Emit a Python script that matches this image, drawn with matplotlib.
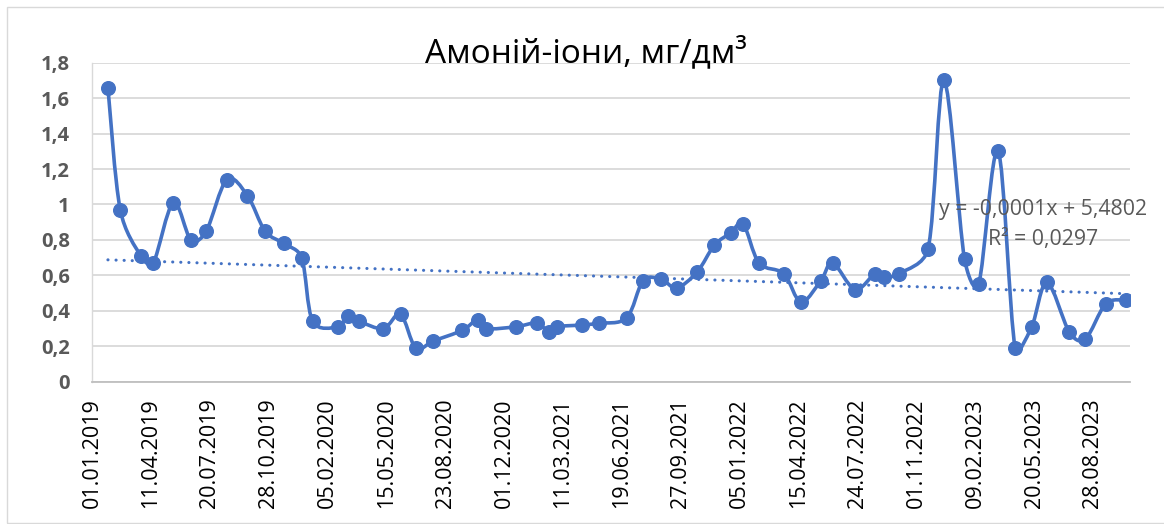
import matplotlib
matplotlib.use("Agg")
import matplotlib.pyplot as plt
import matplotlib.dates as mdates
from matplotlib.path import Path
from matplotlib.patches import PathPatch, Rectangle
from matplotlib.ticker import FixedLocator, FuncFormatter
import numpy as np
import datetime as dt

# ---- data -------------------------------------------------------------
dates = [
    "2019-01-28", "2019-02-18", "2019-03-25", "2019-04-15", "2019-05-19",
    "2019-06-18", "2019-07-14", "2019-08-18", "2019-09-22", "2019-10-22",
    "2019-11-23", "2019-12-23", "2020-01-11", "2020-02-23", "2020-03-10",
    "2020-03-30", "2020-05-10", "2020-06-08", "2020-07-04", "2020-08-03",
    "2020-09-21", "2020-10-17", "2020-11-01", "2020-12-21", "2021-01-25",
    "2021-02-16", "2021-03-01", "2021-04-13", "2021-05-11", "2021-06-27",
    "2021-07-25", "2021-08-24", "2021-09-20", "2021-10-25", "2021-11-23",
    "2021-12-21", "2022-01-11", "2022-02-07", "2022-03-21", "2022-04-19",
    "2022-05-23", "2022-06-12", "2022-07-20", "2022-08-23", "2022-09-07",
    "2022-10-03", "2022-11-21", "2022-12-18", "2023-01-22", "2023-02-15",
    "2023-03-20", "2023-04-18", "2023-05-16", "2023-06-11", "2023-07-19",
    "2023-08-15", "2023-09-19", "2023-10-23",
]
values = [
    1.66, 0.97, 0.71, 0.67, 1.01, 0.80, 0.85, 1.14, 1.05, 0.85,
    0.78, 0.70, 0.34, 0.31, 0.37, 0.34, 0.30, 0.38, 0.19, 0.23,
    0.29, 0.35, 0.30, 0.31, 0.33, 0.28, 0.31, 0.32, 0.33, 0.36,
    0.57, 0.58, 0.53, 0.62, 0.77, 0.84, 0.89, 0.67, 0.61, 0.45,
    0.57, 0.67, 0.52, 0.61, 0.59, 0.61, 0.75, 1.70, 0.69, 0.55,
    1.30, 0.19, 0.31, 0.56, 0.28, 0.24, 0.44, 0.46,
]
y_ticks = [0, 0.2, 0.4, 0.6, 0.8, 1.0, 1.2, 1.4, 1.6, 1.8]
x_start = "2019-01-01"
x_end = "2023-10-30"
tick_step_days = 100
title = "Амоній-іони, мг/дм³"
trend_eq = "y = -0,0001x + 5,4802"
trend_r2 = "R² = 0,0297"

# ---- style ------------------------------------------------------------
BLUE = "#4472C4"
GRID = "#D9D9D9"
GRAY = "#595959"
FONT = ["Open Sans", "DejaVu Sans"]
plt.rcParams["font.family"] = FONT

W, H = 1164, 524
fig = plt.figure(figsize=(W / 100, H / 100), dpi=100)
fig.patch.set_facecolor("white")

# chart border
fig.add_artist(Rectangle((7 / W, 1 / H), (W + 20) / W, (H - 8) / H,
                         transform=fig.transFigure, fill=False,
                         edgecolor=GRID, linewidth=1.0))

ax = fig.add_axes([92 / W, 1 - 381.7 / H, (1130 - 92) / W, (381.7 - 62.7) / H])

xd = np.array([mdates.date2num(dt.datetime.strptime(d, "%Y-%m-%d")) for d in dates])
yv = np.array(values, dtype=float)

x0 = mdates.date2num(dt.datetime.strptime(x_start, "%Y-%m-%d"))
x1 = mdates.date2num(dt.datetime.strptime(x_end, "%Y-%m-%d"))
ax.set_xlim(x0, x1)
ax.set_ylim(0, 1.8)

# smoothed line (Catmull-Rom -> cubic Bezier, handles limited to avoid overshoot)
pts = ax.transData.transform(np.column_stack([xd, yv]))
n = len(pts)
tang = []
for i in range(n):
    p0 = pts[i - 1] if i > 0 else pts[i]
    p2 = pts[i + 1] if i < n - 1 else pts[i]
    tang.append((p2 - p0) / 6.0)
verts = [pts[0]]
codes = [Path.MOVETO]
for i in range(n - 1):
    p1, p2 = pts[i], pts[i + 1]
    seg = np.linalg.norm(p2 - p1)
    t1, t2 = tang[i], tang[i + 1]
    l1, l2 = np.linalg.norm(t1), np.linalg.norm(t2)
    lim = seg * 0.45
    if l1 > lim:
        t1 = t1 * lim / l1
    if l2 > lim:
        t2 = t2 * lim / l2
    verts += [p1 + t1, p2 - t2, p2]
    codes += [Path.CURVE4] * 3
verts = ax.transData.inverted().transform(np.array(verts))
ax.add_patch(PathPatch(Path(verts, codes), facecolor="none", edgecolor=BLUE,
                       linewidth=2.6, capstyle="round", joinstyle="round", zorder=3))
ax.plot(xd, yv, linestyle="none", marker="o", markersize=9.8,
        markerfacecolor=BLUE, markeredgecolor=BLUE, zorder=4)

# linear trend
k, b = np.polyfit(xd, yv, 1)
tx = np.array([xd[0], xd[-1]])
ax.plot(tx, k * tx + b, color=BLUE, linewidth=2.2, linestyle=(0, (0.05, 2.6)),
        dash_capstyle="round", zorder=2)

# axes
ax.xaxis.set_major_locator(FixedLocator(np.arange(x0, x1, tick_step_days)))
ax.xaxis.set_major_formatter(mdates.DateFormatter("%d.%m.%Y"))
ax.yaxis.set_major_locator(FixedLocator(y_ticks))


def yfmt(v, pos):
    s = ("%.1f" % v)
    if s.endswith(".0"):
        s = s[:-2]
    return s.replace(".", ",")


ax.yaxis.set_major_formatter(FuncFormatter(yfmt))
ax.grid(axis="y", color=GRID, linewidth=1.3)
ax.set_axisbelow(True)
for s in ("top", "right"):
    ax.spines[s].set_visible(False)
ax.spines["left"].set_color(GRID)
ax.spines["left"].set_linewidth(1.0)
ax.spines["bottom"].set_color("#BFBFBF")
ax.spines["bottom"].set_linewidth(1.3)
ax.tick_params(axis="both", length=0)
ax.tick_params(axis="y", pad=16, labelsize=14.5, labelcolor=GRAY)
ax.tick_params(axis="x", pad=12, labelsize=15.5, labelcolor="black", labelrotation=90)
for t in ax.get_yticklabels():
    t.set_fontweight("bold")

# title
fig.text(586 / W, 1 - 62 / H, title, ha="center", va="baseline",
         fontsize=24, color="black")

# trend label
fig.text(1147 / W, 1 - 210 / H, trend_eq, ha="right", va="center",
         fontsize=15.3, color=GRAY)
fig.text(1098 / W, 1 - 240 / H, trend_r2, ha="right", va="center",
         fontsize=15.3, color=GRAY)

fig.savefig("out.png", dpi=100, facecolor="white")
